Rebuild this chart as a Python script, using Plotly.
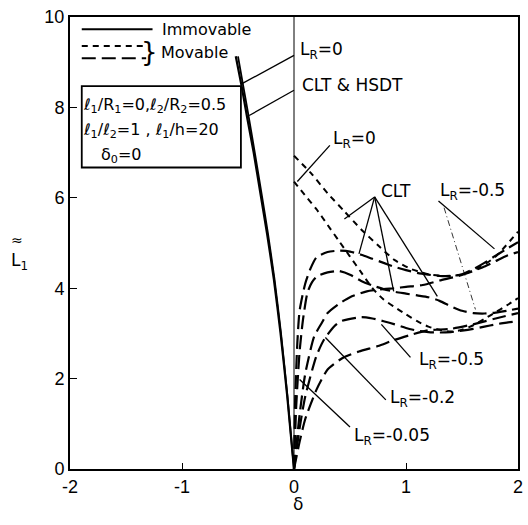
import plotly.graph_objects as go

# ---- data -------------------------------------------------------------
# Immovable edges, L_R = 0 (CLT and HSDT nearly coincide)
imm_clt_x = [-0.52, -0.47, -0.42, -0.36, -0.30, -0.24, -0.18, -0.12, -0.06, 0.0]
imm_clt_y = [9.13, 8.5, 7.8, 7.0, 6.1, 5.2, 4.2, 3.0, 1.6, 0.0]
imm_hsdt_x = [-0.50, -0.455, -0.405, -0.35, -0.29, -0.232, -0.174, -0.116, -0.058, 0.0]
imm_hsdt_y = [9.13, 8.5, 7.8, 7.0, 6.1, 5.2, 4.2, 3.0, 1.6, 0.0]

# Movable edges, L_R = 0 (short dashes)
mov0_clt_x = [0.0, 0.15, 0.3, 0.45, 0.6, 0.75, 0.9, 1.05, 1.2, 1.35, 1.5, 1.65, 1.8, 2.0]
mov0_clt_y = [6.93, 6.55, 6.1, 5.7, 5.3, 4.95, 4.62, 4.42, 4.31, 4.27, 4.3, 4.45, 4.7, 5.25]
mov0_hsdt_x = [0.0, 0.1, 0.2, 0.3, 0.4, 0.5, 0.6, 0.7, 0.8, 0.9, 1.0, 1.1, 1.2, 1.3, 1.4, 1.5, 1.6, 1.7, 1.8, 1.9, 2.0]
mov0_hsdt_y = [6.36, 6.05, 5.75, 5.4, 5.05, 4.7, 4.35, 4.0, 3.75, 3.58, 3.42, 3.27, 3.15, 3.08, 3.04, 3.08, 3.18, 3.32, 3.47, 3.62, 3.78]

# Movable edges, L_R < 0 (long dashes)
mov_a_x = [0.0, 0.01, 0.03, 0.05, 0.1, 0.15, 0.2, 0.3, 0.4, 0.5, 0.6, 0.7, 0.8, 0.9, 1.0, 1.1, 1.2, 1.3, 1.4, 1.5, 1.6, 1.7, 1.8, 1.9, 2.0]
mov_a_y = [0.0, 1.5, 2.8, 3.5, 4.1, 4.45, 4.68, 4.8, 4.83, 4.81, 4.74, 4.65, 4.56, 4.47, 4.4, 4.34, 4.3, 4.27, 4.27, 4.31, 4.42, 4.56, 4.72, 4.87, 5.02]
mov_b_x = [0.0, 0.02, 0.05, 0.08, 0.12, 0.16, 0.21, 0.3, 0.4, 0.5, 0.6, 0.7, 0.8, 0.9, 1.0, 1.1, 1.2, 1.3, 1.4, 1.5, 1.6, 1.7, 1.8, 1.9, 2.0]
mov_b_y = [0.0, 1.4, 2.6, 3.3, 3.9, 4.13, 4.27, 4.35, 4.38, 4.3, 4.16, 4.06, 3.98, 3.92, 3.88, 3.84, 3.8, 3.72, 3.6, 3.5, 3.45, 3.44, 3.46, 3.5, 3.55]
mov_c_x = [0.0, 0.05, 0.1, 0.18, 0.25, 0.3, 0.4, 0.5, 0.65, 0.8, 0.9, 1.0, 1.15, 1.3, 1.47, 1.6, 1.7, 1.8, 1.9, 2.0]
mov_c_y = [0.0, 1.2, 2.1, 2.93, 3.24, 3.45, 3.65, 3.8, 3.93, 3.98, 4.0, 4.03, 4.07, 4.17, 4.27, 4.38, 4.48, 4.6, 4.72, 4.8]
mov_d_x = [0.0, 0.05, 0.1, 0.2, 0.27, 0.36, 0.42, 0.6, 0.7, 0.8, 0.9, 1.0, 1.1, 1.2, 1.3, 1.4, 1.5, 1.6, 1.7, 1.8, 1.9, 2.0]
mov_d_y = [0.0, 0.9, 1.6, 2.5, 2.87, 3.16, 3.27, 3.36, 3.33, 3.27, 3.2, 3.12, 3.06, 3.03, 3.02, 3.03, 3.06, 3.1, 3.15, 3.2, 3.24, 3.27]
mov_e_x = [0.0, 0.05, 0.1, 0.2, 0.3, 0.43, 0.58, 0.75, 0.89, 1.06, 1.2, 1.4, 1.6, 1.8, 2.0]
mov_e_y = [0.0, 0.6, 1.1, 1.75, 2.2, 2.45, 2.6, 2.72, 2.85, 2.98, 3.07, 3.1, 3.2, 3.33, 3.45]

# Leader lines for the curve labels: (x0, y0, x1, y1)
leaders = [
    (0.0, 9.15, -0.46, 8.53),
    (0.0, 8.38, -0.40, 7.82),
    (0.32, 7.16, 0.03, 6.36),
    (0.72, 6.02, 0.45, 5.53),
    (0.72, 6.02, 0.58, 4.76),
    (0.72, 6.02, 0.89, 3.93),
    (0.72, 6.02, 1.28, 3.82),
    (1.29, 5.93, 1.79, 4.87),
    (1.04, 2.47, 0.78, 3.20),
    (0.82, 1.53, 0.28, 2.91),
    (0.50, 0.93, 0.05, 1.98),
]
dotted_leader = (1.34, 5.78, 1.62, 3.53)

# Curve labels: (x, y, text)
labels = [
    (0.04, 9.25, "L<sub>R</sub>=0"),
    (0.05, 8.5, "CLT & HSDT"),
    (0.33, 7.3, "L<sub>R</sub>=0"),
    (0.76, 6.15, "CLT"),
    (1.29, 6.15, "L<sub>R</sub>=-0.5"),
    (1.1, 2.4, "L<sub>R</sub>=-0.5"),
    (0.84, 1.55, "L<sub>R</sub>=-0.2"),
    (0.52, 0.72, "L<sub>R</sub>=-0.05"),
]

x_ticks = [-2, -1, 0, 1, 2]
y_ticks = [0, 2, 4, 6, 8, 10]

FONT = "DejaVu Sans"
TICK_FONT = "Liberation Sans"
LONG_DASH = "14px,6px"
SHORT_DASH = "6px,5px"

fig = go.Figure()


def curve(x, y, dash, width):
    fig.add_trace(go.Scatter(
        x=x, y=y, mode="lines",
        line=dict(color="black", width=width, dash=dash, shape="spline", smoothing=0.6),
        showlegend=False, hoverinfo="skip"))


curve(imm_clt_x, imm_clt_y, "solid", 2.2)
curve(imm_hsdt_x, imm_hsdt_y, "solid", 1.8)
curve(mov0_clt_x, mov0_clt_y, SHORT_DASH, 2.0)
curve(mov0_hsdt_x, mov0_hsdt_y, SHORT_DASH, 2.0)
for xs, ys in [(mov_a_x, mov_a_y), (mov_b_x, mov_b_y), (mov_c_x, mov_c_y),
               (mov_d_x, mov_d_y), (mov_e_x, mov_e_y)]:
    curve(xs, ys, LONG_DASH, 2.2)

# thin vertical line at delta = 0
fig.add_trace(go.Scatter(x=[0, 0], y=[0, 10], mode="lines",
                         line=dict(color="black", width=1), showlegend=False, hoverinfo="skip"))

for x0, y0, x1, y1 in leaders:
    fig.add_trace(go.Scatter(x=[x0, x1], y=[y0, y1], mode="lines",
                             line=dict(color="black", width=1.3), showlegend=False, hoverinfo="skip"))
fig.add_trace(go.Scatter(x=[dotted_leader[0], dotted_leader[2]], y=[dotted_leader[1], dotted_leader[3]],
                         mode="lines", line=dict(color="black", width=0.8, dash="6px,3px,1px,3px"),
                         showlegend=False, hoverinfo="skip"))

for x, y, t in labels:
    fig.add_annotation(x=x, y=y, text=t, showarrow=False, xanchor="left", yanchor="middle",
                       font=dict(family=FONT, size=17, color="black"))

# hand-drawn key
fig.add_shape(type="line", x0=-1.895, x1=-1.263, y0=9.73, y1=9.73, line=dict(color="black", width=2))
fig.add_shape(type="line", x0=-1.895, x1=-1.32, y0=9.36, y1=9.36, line=dict(color="black", width=2, dash=SHORT_DASH))
fig.add_shape(type="line", x0=-1.895, x1=-1.32, y0=9.09, y1=9.09, line=dict(color="black", width=2, dash=LONG_DASH))
fig.add_annotation(x=-1.2, y=9.73, text="Immovable", showarrow=False, xanchor="left",
                   font=dict(family=FONT, size=16, color="black"))
fig.add_annotation(x=-1.205, y=9.22, text="}", showarrow=False, xanchor="right", borderpad=0,
                   font=dict(family=FONT, size=26, color="black"))
fig.add_annotation(x=-1.2, y=9.22, text="Movable", showarrow=False, xanchor="left", borderpad=0,
                   font=dict(family=FONT, size=16, color="black"))

# parameter box
fig.add_shape(type="rect", x0=-1.895, x1=-0.474, y0=6.67, y1=8.47, line=dict(color="black", width=1.8))
fig.add_annotation(x=-1.9, y=8.05, text="<i>ℓ</i><sub>1</sub>/R<sub>1</sub>=0,<i>ℓ</i><sub>2</sub>/R<sub>2</sub>=0.5",
                   showarrow=False, xanchor="left", font=dict(family=FONT, size=16, color="black"))
fig.add_annotation(x=-1.9, y=7.5, text="<i>ℓ</i><sub>1</sub>/<i>ℓ</i><sub>2</sub>=1 , <i>ℓ</i><sub>1</sub>/h=20",
                   showarrow=False, xanchor="left", font=dict(family=FONT, size=16, color="black"))
fig.add_annotation(x=-1.74, y=6.93, text="δ<sub>0</sub>=0",
                   showarrow=False, xanchor="left", font=dict(family=FONT, size=16, color="black"))

# axis titles
fig.add_annotation(xref="paper", yref="paper", x=-0.112, y=0.487, text="L<sub>1</sub>", showarrow=False,
                   xanchor="center", yanchor="top", borderpad=0,
                   font=dict(family=FONT, size=17, color="black"))
fig.add_annotation(xref="paper", yref="paper", x=-0.118, y=0.487, text="≈", showarrow=False,
                   xanchor="center", yanchor="bottom", borderpad=0,
                   font=dict(family=FONT, size=14, color="black"))
fig.add_annotation(xref="paper", yref="paper", x=0.51, y=-0.105, text="δ", showarrow=False,
                   font=dict(family=FONT, size=17, color="black"))

fig.update_xaxes(range=[-2, 2], tickvals=x_ticks, ticktext=[str(v) for v in x_ticks],
                 showgrid=False, zeroline=False, showline=True, linecolor="black", linewidth=2,
                 mirror=True, ticks="inside", ticklen=6, tickcolor="black",
                 tickfont=dict(family=TICK_FONT, size=18, color="black"))
fig.update_yaxes(range=[0, 10], tickvals=y_ticks, ticktext=[str(v) for v in y_ticks],
                 showgrid=False, zeroline=False, showline=True, linecolor="black", linewidth=2,
                 mirror=True, ticks="inside", ticklen=7, tickcolor="black",
                 tickfont=dict(family=TICK_FONT, size=18, color="black"))

fig.update_layout(width=528, height=525, margin=dict(l=70, r=5, t=17, b=56),
                  plot_bgcolor="white", paper_bgcolor="white")

fig.write_html("out.html")
